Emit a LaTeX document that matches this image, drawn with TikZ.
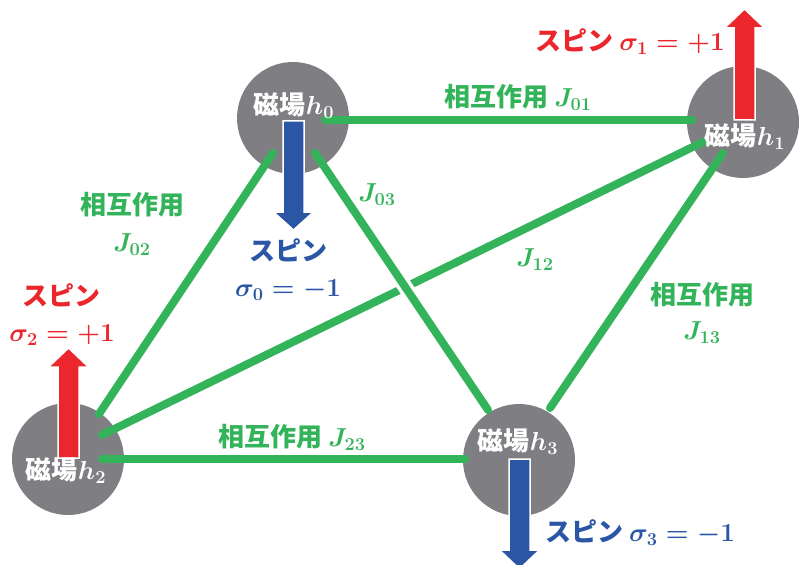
\RequirePackage{fix-cm}
\documentclass[tikz,border=0pt]{standalone}
\usepackage{fontspec}
\newfontfamily\jp{Noto Sans CJK JP}
\definecolor{cgreen}{RGB}{52,180,90}
\definecolor{cgrey}{RGB}{127,127,131}
\definecolor{cred}{RGB}{235,38,44}
\definecolor{cblue}{RGB}{42,86,165}
\newcommand\fatarr[5]{%
  \fill[#1,draw=white,line width=1.5pt,line join=miter]
    ({#2-10.5},#3) -- ({#2-10.5},#4) -- ({#2-20},#4) -- (#2,#5) --
    ({#2+20},#4) -- ({#2+10.5},#4) -- ({#2+10.5},#3) -- cycle;}
\begin{document}
\begin{tikzpicture}[x=1pt,y=-1pt,
  field/.style={circle,fill=cgrey,minimum size=112pt,inner sep=0pt},
  link/.style={draw=cgreen,line width=8pt,line cap=round},
  txt/.style={font=\jp\bfseries\boldmath\fontsize{26}{30}\selectfont,inner sep=0pt},
  hl/.style={txt,text=white},
  gl/.style={txt,text=cgreen},
  rl/.style={txt,text=cred},
  bl/.style={txt,text=cblue}]
\useasboundingbox (0,0) rectangle (799,564);
% magnetic field circles
\node[field] (h0) at (293,118) {};
\node[field] (h1) at (743,122) {};
\node[field] (h2) at (68,459) {};
\node[field] (h3) at (519,460) {};
% link end points
\coordinate (a01) at (325,120); \coordinate (b01) at (692,120);
\coordinate (a02) at (273,153); \coordinate (b02) at (99,414);
\coordinate (a03) at (315,153); \coordinate (b03) at (488,410);
\coordinate (a12) at (703,142); \coordinate (b12) at (102,435);
\coordinate (a13) at (723,153); \coordinate (b13) at (550,408);
\coordinate (a23) at (102,459); \coordinate (b23) at (465,459);
% links
\draw[link] (a01) -- (b01);
\draw[link] (a02) -- (b02);
\draw[link] (a12) -- (b12);
\draw[draw=white,line width=15pt,shorten <=80pt,shorten >=80pt] (a03) -- (b03);
\draw[link] (a03) -- (b03);
\draw[link] (a13) -- (b13);
\draw[link] (a23) -- (b23);
% spin arrows
\fatarr{cblue}{293.5}{121}{212}{230}
\fatarr{cred}{744.5}{120}{28}{9}
\fatarr{cred}{68.5}{458}{367}{348}
\fatarr{cblue}{519.5}{459}{550}{569}
% field labels
\node[hl] (t0) at (294,106) {磁場$h_0$};
\node[hl] (t1) at (745,137) {磁場$h_1$};
\node[hl] (t2) at (66,471) {磁場$h_2$};
\node[hl] (t3) at (518,442) {磁場$h_3$};
% interaction labels
\node[gl] (l01) at (518,97) {相互作用 $J_{01}$};
\node[gl] (l02a) at (132,205) {相互作用};
\node[gl] (l02b) at (132,245) {$J_{02}$};
\node[gl] (l03) at (377,195) {$J_{03}$};
\node[gl] (l12) at (535,260) {$J_{12}$};
\node[gl] (l13a) at (702,295) {相互作用};
\node[gl] (l13b) at (702,333) {$J_{13}$};
\node[gl] (l23) at (292,437) {相互作用 $J_{23}$};
% spin labels
\node[bl] (s0a) at (288,250) {スピン};
\node[bl] (s0b) at (288,290) {$\sigma_0 = -1$};
\node[rl] (s1) at (630,42) {スピン $\sigma_1 = +1$};
\node[rl] (s2a) at (61,295) {スピン};
\node[rl] (s2b) at (62,335) {$\sigma_2 = +1$};
\node[bl] (s3) at (640,533) {スピン $\sigma_3 = -1$};
\end{tikzpicture}
\end{document}
